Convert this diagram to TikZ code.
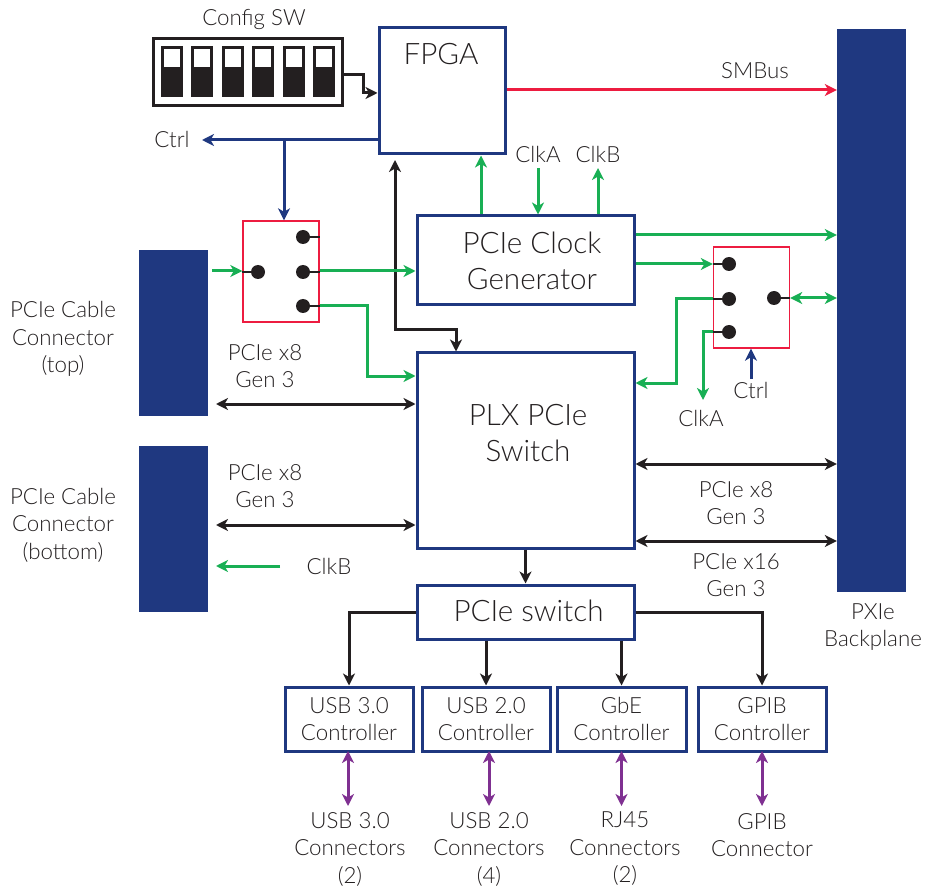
\documentclass[tikz,border=0pt]{standalone}
\usepackage{fontspec}
\setmainfont{Lato Light}
\usepackage{tikz}
\usetikzlibrary{arrows.meta}
\definecolor{pxblue}{RGB}{31,56,128}
\definecolor{pxgreen}{RGB}{24,175,84}
\definecolor{pxred}{RGB}{237,28,64}
\definecolor{pxpurple}{RGB}{127,48,145}
\definecolor{pxblack}{RGB}{35,31,32}
\tikzset{
  bluebox/.style={draw=pxblue, line width=3pt, inner sep=0pt, align=center, text=pxblack},
  redbox/.style={draw=pxred, line width=1.4pt, minimum width=76pt, minimum height=101pt},
  connbar/.style={fill=pxblue, minimum width=69pt, inner sep=0pt},
  lbl/.style={font=\fontsize{22.3}{27.5}\selectfont, align=center, text=pxblack, inner sep=0pt},
  biglbl/.style={font=\fontsize{29.6}{36}\selectfont, align=center, text=pxblack, inner sep=0pt},
  pin/.style={circle, fill=pxblack, minimum size=14pt, inner sep=0pt},
  wire/.style={line width=3pt, -{Stealth[length=12pt,width=12pt,inset=3.5pt]}},
  bothwire/.style={line width=3pt, {Stealth[length=12pt,width=12pt,inset=3.5pt]}-{Stealth[length=12pt,width=12pt,inset=3.5pt]}},
  stub/.style={line width=2.4pt, pxblack}
}
\begin{document}
\begin{tikzpicture}[x=1pt, y=-1pt]
    \useasboundingbox (0,0) rectangle (926,890);
    % blocks
    \node[bluebox, minimum width=126pt, minimum height=126pt] (fpga) at (442,91) {};
    \node[biglbl] (fpgalabel) at (441,54) {FPGA};
    \node[bluebox, minimum width=217pt, minimum height=89pt] (clockgen) at (525.5,260.5) {};
    \node[biglbl] (clockgenlabel) at (532,261) {PCIe Clock\\Generator};
    \node[bluebox, minimum width=217pt, minimum height=195pt] (plx) at (525.5,450.5) {};
    \node[biglbl] (plxlabel) at (528,433) {PLX PCIe\\Switch};
    \node[bluebox, minimum width=217pt, minimum height=54pt] (pcieswitch) at (525.5,612) {};
    \node[biglbl] (pcieswitchlabel) at (528.5,611) {PCIe switch};
    \node[bluebox, lbl, minimum width=128pt, minimum height=64pt] (usbthree) at (349,719) {USB 3.0\\Controller};
    \node[bluebox, lbl, minimum width=128pt, minimum height=64pt] (usbtwo) at (486,719) {USB 2.0\\Controller};
    \node[bluebox, lbl, minimum width=129pt, minimum height=64pt] (gbe) at (621.5,719) {GbE\\Controller};
    \node[bluebox, lbl, minimum width=128pt, minimum height=64pt] (gpib) at (762,719) {GPIB\\Controller};
    \node[connbar, minimum height=563pt] (pxie) at (871.5,310.5) {};
    \node[connbar, minimum height=166pt] (conntop) at (173.5,333) {};
    \node[connbar, minimum height=166pt] (connbot) at (173.5,529) {};
    \node[redbox] (swleft) at (281,271.5) {};
    \node[redbox] (swright) at (751.5,297.5) {};
    % config switch
    \node[draw=pxblack, line width=3pt, minimum width=189pt, minimum height=67pt, inner sep=0pt] (cfgsw) at (248,72) {};
    \foreach \i in {0,...,5} {
      \fill[pxblack] ({161+30.4*\i},46) rectangle ++(22,51);
      \fill[white] ({164+30.4*\i},49) rectangle ++(16,18);
    }
    % pins
    \node[pin] (pinlin) at (258,272) {};
    \node[pin] (pinla) at (303,237) {};
    \node[pin] (pinlb) at (303,272) {};
    \node[pin] (pinlc) at (303,306) {};
    \node[pin] (pinra) at (729,264) {};
    \node[pin] (pinrb) at (729,299) {};
    \node[pin] (pinrc) at (729,332) {};
    \node[pin] (pinrout) at (774,298) {};
    \draw[stub] (pinlin) -- (swleft.west |- pinlin);
    \draw[stub] (pinla) -- (swleft.east |- pinla);
    \draw[stub] (pinlb) -- (swleft.east |- pinlb);
    \draw[stub] (pinlc) -- (swleft.east |- pinlc);
    \draw[stub] (pinra) -- (swright.west |- pinra);
    \draw[stub] (pinrb) -- (swright.west |- pinrb);
    \draw[stub] (pinrc) -- (swright.west |- pinrc);
    \draw[stub] (pinrout) -- (swright.east |- pinrout);
    % labels
    \node[lbl] (cfglabel) at (254,20) {Config SW};
    \node[lbl] (smbuslabel) at (755,71) {SMBus};
    \node[lbl] (ctrlleft) at (172,139) {Ctrl};
    \node[lbl] (clkatop) at (538,154) {ClkA};
    \node[lbl] (clkbtop) at (598,154) {ClkB};
    \node[lbl] (ctrlright) at (751,390) {Ctrl};
    \node[lbl] (clkaright) at (701,418) {ClkA};
    \node[lbl] (clkbleft) at (329,566) {ClkB};
    \node[lbl] (toplabel) at (63,339) {PCIe Cable\\Connector\\(top)};
    \node[lbl] (botlabel) at (63,525) {PCIe Cable\\Connector\\(bottom)};
    \node[lbl] (xtop) at (265,366) {PCIe x8\\Gen 3};
    \node[lbl] (xbot) at (265,486) {PCIe x8\\Gen 3};
    \node[lbl] (xright) at (736,503) {PCIe x8\\Gen 3};
    \node[lbl] (xsixteen) at (736,575) {PCIe x16\\Gen 3};
    \node[lbl] (pxielabel) at (873,627) {PXIe\\Backplane};
    \node[lbl] (usbthreeconn) at (350,849) {USB 3.0\\Connectors\\(2)};
    \node[lbl] (usbtwoconn) at (489,849) {USB 2.0\\Connectors\\(4)};
    \node[lbl] (rjconn) at (625,849) {RJ45\\Connectors\\(2)};
    \node[lbl] (gpibconn) at (762,835) {GPIB\\Connector};
    % free ends
    \coordinate (sminy) at (600,90);
    \coordinate (ctrly) at (300,140);
    \coordinate (ctrlend) at (202,140);
    \coordinate (ctrldrop) at (284,140);
    \coordinate (jogleft) at (363,75);
    \coordinate (jogright) at (363,93);
    \coordinate (blacktop) at (395,160);
    \coordinate (blackbend) at (395,330);
    \coordinate (blackdrop) at (456,330);
    \coordinate (clkup) at (481,180);
    \coordinate (clkain) at (538,168);
    \coordinate (clkbout) at (598,168);
    \coordinate (lowgreen) at (367,306);
    \coordinate (lowgreenb) at (367,376);
    \coordinate (greenin) at (212,271);
    \coordinate (greenbend) at (676,299);
    \coordinate (greenbendb) at (676,383);
    \coordinate (clkabend) at (703,332);
    \coordinate (clkaend) at (703,400);
    \coordinate (ctrlup) at (751,379);
    \coordinate (clkbend) at (216,566);
    \coordinate (clkbstart) at (280,566);
    \coordinate (topstart) at (216,404);
    \coordinate (botstart) at (216,525);
    \coordinate (rowa) at (700,464);
    \coordinate (rowb) at (700,541);
    \coordinate (rowc) at (700,235);
    \coordinate (rowd) at (700,264);
    \coordinate (purpletop) at (348,751);
    \coordinate (purplelow) at (348,806);
    % connectors
    \draw[wire, pxblack] (cfgsw.east |- jogleft) -- (jogleft) -- (jogright) -- (fpga.west |- jogright);
    \draw[wire, pxred] (fpga.east |- sminy) -- (pxie.west |- sminy);
    \draw[wire, pxblue] (fpga.west |- ctrly) -- (ctrlend);
    \draw[wire, pxblue] (ctrldrop) -- (ctrldrop |- swleft.north);
    \draw[bothwire, pxblack] (blacktop) -- (blackbend) -- (blackdrop) -- (blackdrop |- plx.north);
    \draw[wire, pxgreen] (clkup |- clockgen.north) -- (clkup |- fpga.south);
    \draw[wire, pxgreen] (clkain) -- (clkain |- clockgen.north);
    \draw[wire, pxgreen] (clkbout |- clockgen.north) -- (clkbout);
    \draw[wire, pxgreen] (greenin) -- (swleft.west |- greenin);
    \draw[wire, pxgreen] (swleft.east |- greenin) -- (clockgen.west |- greenin);
    \draw[wire, pxgreen] (swleft.east |- lowgreen) -- (lowgreen) -- (lowgreenb) -- (plx.west |- lowgreenb);
    \draw[wire, pxgreen] (clockgen.east |- rowc) -- (pxie.west |- rowc);
    \draw[wire, pxgreen] (clockgen.east |- rowd) -- (swright.west |- rowd);
    \draw[wire, pxgreen] (swright.west |- greenbend) -- (greenbend) -- (greenbendb) -- (plx.east |- greenbendb);
    \draw[wire, pxgreen] (swright.west |- clkabend) -- (clkabend) -- (clkaend);
    \draw[bothwire, pxgreen] (swright.east |- pinrout) -- (pxie.west |- pinrout);
    \draw[wire, pxblue] (ctrlup) -- (ctrlup |- swright.south);
    \draw[wire, pxgreen] (clkbstart) -- (clkbend);
    \draw[bothwire, pxblack] (topstart) -- (plx.west |- topstart);
    \draw[bothwire, pxblack] (botstart) -- (plx.west |- botstart);
    \draw[bothwire, pxblack] (plx.east |- rowa) -- (pxie.west |- rowa);
    \draw[bothwire, pxblack] (plx.east |- rowb) -- (pxie.west |- rowb);
    \draw[wire, pxblack] (pcieswitch.north |- plx.south) -- (pcieswitch.north);
    \draw[wire, pxblack] (pcieswitch.west) -| (usbthree.north);
    \draw[wire, pxblack] (usbtwo.north |- pcieswitch.south) -- (usbtwo.north);
    \draw[wire, pxblack] (gbe.north |- pcieswitch.south) -- (gbe.north);
    \draw[wire, pxblack] (pcieswitch.east) -| (gpib.north);
    \draw[bothwire, pxpurple] (purpletop) -- (purplelow);
    \draw[bothwire, pxpurple] (usbtwoconn.north |- purpletop) -- (usbtwoconn.north |- purplelow);
    \draw[bothwire, pxpurple] (gbe.south |- purpletop) -- (gbe.south |- purplelow);
    \draw[bothwire, pxpurple] (gpib.south |- purpletop) -- (gpib.south |- purplelow);
\end{tikzpicture}
\end{document}
